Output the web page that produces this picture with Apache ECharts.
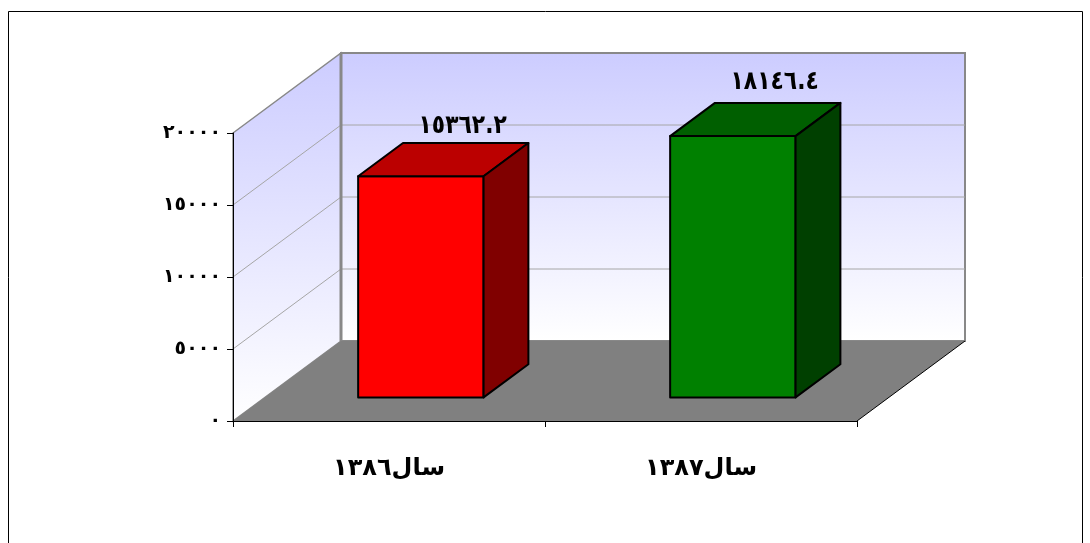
<!DOCTYPE html>
<html>
<head>
<meta charset="utf-8">
<style>html,body{margin:0;padding:0;background:#fff}#c{width:1090px;height:543px}</style>
<script src="https://cdn.jsdelivr.net/npm/echarts@6/dist/echarts.min.js"></script>
</head>
<body>
<div id="c"></div>
<script>
const categories = ['سال١٣٨٦', 'سال١٣٨٧'];
const values = [15362.2, 18146.4];
const valueLabels = ['١٥٣٦٢.٢', '١٨١٤٦.٤'];
const yTicks = [0, 5000, 10000, 15000, 20000];
const yTickLabels = ['٠', '٥٠٠٠', '١٠٠٠٠', '١٥٠٠٠', '٢٠٠٠٠'];
const frontColors = ['#ff0000', '#008000'];
const topColors = ['#bb0000', '#005f00'];
const sideColors = ['#800000', '#004000'];

const FONT = '"DejaVu Sans"';
const DX = 108, DY = -80;              // full depth of the 3D box
const BAR_D0 = 0.295, BAR_D1 = 0.71;   // bar front/back as depth fractions
const BAR_W = 0.402;                   // bar width as share of a category band
const LABEL_GAP = [4, 8];              // gap above each bar's top, px

function poly(points, style, z2) {
  return { type: 'polygon', shape: { points }, style, z2: z2 || 0 };
}
function renderBox(params, api) {
  const band = api.size([1, 0])[0];
  const x0 = api.coord([0, 0])[0] - band / 2;
  const x1 = x0 + band * categories.length;
  const yb = api.coord([0, 0])[1];
  const yt = api.coord([0, 20000])[1];
  const grey = '#888888', grid = '#a6a6a6';
  const wall = () => ({ type: 'linear', x: 0, y: 0, x2: 0, y2: 1, colorStops: [
    { offset: 0, color: '#ccccff' }, { offset: 1, color: '#ffffff' }] });
  const children = [
    poly([[x0 + DX, yt + DY], [x1 + DX, yt + DY], [x1 + DX, yb + DY], [x0 + DX, yb + DY]],
      { fill: wall(), stroke: grey, lineWidth: 2 }),
    poly([[x0, yt], [x0 + DX, yt + DY], [x0 + DX, yb + DY], [x0, yb]],
      { fill: wall(), stroke: grey, lineWidth: 1.5 }),
    poly([[x0, yb], [x1, yb], [x1 + DX, yb + DY], [x0 + DX, yb + DY]],
      { fill: '#808080', stroke: 'none' }, 2),
    { type: 'line', shape: { x1: x1, y1: yb, x2: x1 + DX, y2: yb + DY }, style: { stroke: '#000', lineWidth: 1 }, z2: 3 }
  ];
  yTicks.slice(1, -1).forEach(t => {
    const y = api.coord([0, t])[1];
    children.push({ type: 'line', shape: { x1: x0, y1: y, x2: x0 + DX, y2: y + DY }, style: { stroke: grid, lineWidth: 1 }, z2: 1 });
    children.push({ type: 'line', shape: { x1: x0 + DX, y1: y + DY, x2: x1 + DX, y2: y + DY }, style: { stroke: grid, lineWidth: 1 }, z2: 1 });
  });
  children.push({ type: 'line', shape: { x1: x0 + DX, y1: yt + DY, x2: x0 + DX, y2: yb + DY }, style: { stroke: grey, lineWidth: 3 }, z2: 1 });
  return { type: 'group', children };
}
function renderBar(params, api) {
  const i = params.dataIndex;
  const band = api.size([1, 0])[0];
  const w = band * BAR_W;
  const c = api.coord([i, 0]);
  const h = c[1] - api.coord([i, api.value(1)])[1];
  const xl = c[0] - w / 2 + DX * BAR_D0, xr = xl + w;
  const yb = c[1] + DY * BAR_D0, yt = yb - h;
  const dx = DX * (BAR_D1 - BAR_D0), dy = DY * (BAR_D1 - BAR_D0);
  const s = { stroke: '#000', lineWidth: 2, lineJoin: 'round' };
  return { type: 'group', children: [
    poly([[xl, yt], [xr, yt], [xr, yb], [xl, yb]], Object.assign({ fill: frontColors[i] }, s)),
    poly([[xl, yt], [xl + dx, yt + dy], [xr + dx, yt + dy], [xr, yt]], Object.assign({ fill: topColors[i] }, s)),
    poly([[xr, yt], [xr + dx, yt + dy], [xr + dx, yb + dy], [xr, yb]], Object.assign({ fill: sideColors[i] }, s)),
    { type: 'text', x: xr + dx - w / 2 - 3, y: yt + dy - LABEL_GAP[i], scaleX: 0.84,
      style: { x: 0, y: 0, text: valueLabels[i], fill: '#000',
        font: 'bold 26px ' + FONT, align: 'center', verticalAlign: 'bottom' } }
  ] };
}
const chart = echarts.init(document.getElementById('c'), null, { renderer: 'canvas' });
chart.setOption({
  animation: false,
  backgroundColor: '#ffffff',
  graphic: [{ type: 'rect', shape: { x: 8.5, y: 11.5, width: 1074, height: 560 },
    style: { fill: 'none', stroke: '#000', lineWidth: 1 }, silent: true, z: 0 }],
  grid: { left: 233, top: 133, width: 624, height: 288 },
  xAxis: {
    type: 'category', data: categories, z: 5,
    axisLine: { show: true, lineStyle: { color: '#000', width: 1 } },
    axisTick: { show: true, alignWithLabel: false, length: 6, lineStyle: { color: '#000' } },
    axisLabel: { color: '#000', fontFamily: FONT, fontWeight: 'bold', fontSize: 24, margin: 36 }
  },
  yAxis: {
    type: 'value', min: 0, max: 20000, interval: 5000, z: 5,
    axisLine: { show: true, lineStyle: { color: '#000', width: 1 } },
    axisTick: { show: true, length: 6, lineStyle: { color: '#000' } },
    splitLine: { show: false },
    axisLabel: { color: '#000', fontFamily: FONT, fontWeight: 'bold', fontSize: 19, margin: 12,
      formatter: v => yTickLabels[yTicks.indexOf(v)] }
  },
  series: [
    { type: 'custom', z: 1, clip: false, silent: true, renderItem: renderBox, data: [[0, 0]] },
    { type: 'custom', z: 6, clip: false, silent: true, renderItem: renderBar,
      encode: { x: 0, y: 1 }, data: values.map((v, i) => [i, v]) }
  ]
});
</script>
</body>
</html>
